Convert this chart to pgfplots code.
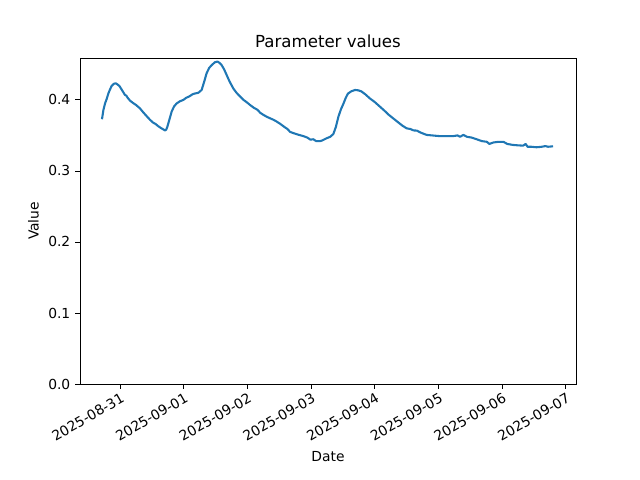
\documentclass[border=0pt]{standalone}
\usepackage{fontspec}
\setmainfont{DejaVu Sans}
\usepackage{pgfplots}
\pgfplotsset{compat=1.18}
\definecolor{mplblue}{HTML}{1F77B4}
\begin{document}
\begin{tikzpicture}
\path[use as bounding box] (-0.8in,-0.96in) rectangle (5.6in,3.84in);
\begin{axis}[
  at={(0,0)}, anchor=south west,
  scale only axis, width=4.96in, height=3.26in,
  xmin=-0.628, xmax=7.16, ymin=0, ymax=0.459,
  xtick={0,1,2,3,4,5,6,7},
  xticklabels={2025-08-31,2025-09-01,2025-09-02,2025-09-03,2025-09-04,2025-09-05,2025-09-06,2025-09-07},
  xticklabel style={rotate=30, anchor=north east, inner sep=1pt, yshift=-1pt},
  ytick={0,0.1,0.2,0.3,0.4},
  yticklabel style={/pgf/number format/.cd, fixed, fixed zerofill, precision=1},
  /pgf/number format/assume math mode=true,
  tick align=outside, major tick length=3.5pt,
  xtick pos=bottom, ytick pos=left,
  tick style={black, line width=0.6pt},
  axis line style={line width=0.6pt},
  title={\fontsize{12}{14}\selectfont Parameter values},
  title style={yshift=-2pt},
  xlabel={Date}, ylabel={Value},
  xlabel style={yshift=-2pt},
  label style={font=\fontsize{10}{12}\selectfont},
  ticklabel style={font=\fontsize{10}{12}\selectfont},
]
\addplot[mplblue, line width=1.5pt, line join=round] coordinates {
(-0.283,0.3728) (-0.260,0.386) (-0.235,0.395) (-0.210,0.401) (-0.183,0.409) (-0.160,0.414) (-0.131,0.4197) (-0.100,0.4225) (-0.068,0.4234) (-0.040,0.4218) (-0.010,0.4197)
(0.030,0.414) (0.078,0.407) (0.100,0.406) (0.120,0.403) (0.157,0.399) (0.200,0.396) (0.250,0.393) (0.314,0.388) (0.360,0.383) (0.400,0.379) (0.440,0.375) (0.471,0.372)
(0.520,0.368) (0.560,0.366) (0.600,0.363) (0.650,0.360) (0.690,0.358) (0.706,0.357) (0.725,0.358) (0.743,0.362) (0.775,0.372) (0.811,0.3835) (0.850,0.391) (0.890,0.395)
(0.940,0.398) (0.995,0.400) (1.040,0.403) (1.090,0.405) (1.140,0.408) (1.177,0.409) (1.230,0.410) (1.282,0.414) (1.320,0.425) (1.360,0.4375) (1.400,0.445) (1.440,0.449)
(1.490,0.453) (1.530,0.454) (1.565,0.452) (1.596,0.449) (1.635,0.443) (1.675,0.435) (1.720,0.426) (1.780,0.416) (1.830,0.410) (1.884,0.405) (1.940,0.400) (2.000,0.396)
(2.040,0.393) (2.100,0.389) (2.160,0.386) (2.200,0.382) (2.250,0.379) (2.310,0.376) (2.360,0.374) (2.410,0.372) (2.460,0.3695) (2.520,0.366) (2.580,0.362) (2.630,0.359)
(2.670,0.355) (2.730,0.353) (2.800,0.351) (2.880,0.349) (2.940,0.347) (2.990,0.344) (3.035,0.3446) (3.080,0.342) (3.140,0.342) (3.170,0.3427) (3.245,0.346) (3.300,0.348)
(3.350,0.352) (3.390,0.362) (3.430,0.3765) (3.470,0.387) (3.510,0.395) (3.545,0.403) (3.580,0.409) (3.630,0.412) (3.690,0.414) (3.740,0.4135) (3.790,0.412) (3.850,0.408)
(3.925,0.402) (4.000,0.397) (4.080,0.3906) (4.150,0.385) (4.220,0.379) (4.290,0.374) (4.360,0.369) (4.430,0.364) (4.500,0.360) (4.560,0.359) (4.610,0.357) (4.660,0.3568)
(4.720,0.354) (4.815,0.3507) (4.900,0.350) (5.020,0.349) (5.120,0.349) (5.230,0.349) (5.300,0.350) (5.340,0.348) (5.390,0.3507) (5.450,0.348) (5.520,0.347) (5.600,0.3446)
(5.680,0.342) (5.760,0.341) (5.800,0.338) (5.860,0.340) (5.940,0.341) (6.020,0.341) (6.080,0.338) (6.170,0.3366) (6.250,0.336) (6.330,0.3356) (6.370,0.338) (6.400,0.334)
(6.460,0.334) (6.540,0.3333) (6.620,0.334) (6.680,0.335) (6.720,0.334) (6.800,0.3347)
};
\end{axis}
\end{tikzpicture}
\end{document}
